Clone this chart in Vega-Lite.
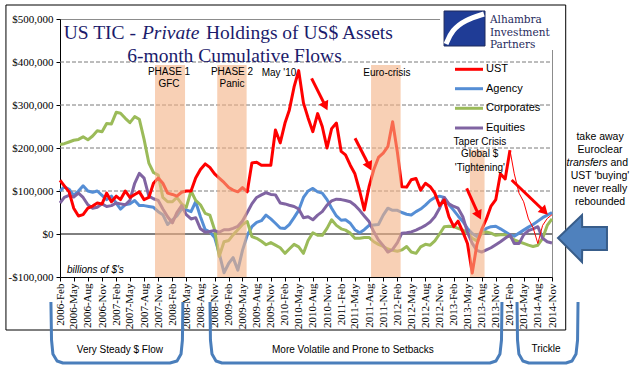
{
"$schema": "https://vega.github.io/schema/vega-lite/v6.json",
"width": 492, "height": 258,
"autosize": {"type": "none"},
"padding": {"left": 60, "top": 19, "right": 89, "bottom": 104},
"background": "white",
"config": {"view": {"stroke": "#8c8c8c", "strokeWidth": 1}, "font": "Liberation Sans"},
"datasets": {
"flows": [
{"t":"2006-02-01","UST":125000,"Agency":100000,"Corporates":208000,"Equities":72000},
{"t":"2006-03-01","UST":112000,"Agency":110000,"Corporates":210000,"Equities":85000},
{"t":"2006-04-01","UST":98000,"Agency":104000,"Corporates":214000,"Equities":90000},
{"t":"2006-05-01","UST":60000,"Agency":90000,"Corporates":218000,"Equities":86000},
{"t":"2006-06-01","UST":42000,"Agency":100000,"Corporates":220000,"Equities":95000},
{"t":"2006-07-01","UST":45000,"Agency":112000,"Corporates":226000,"Equities":85000},
{"t":"2006-08-01","UST":60000,"Agency":100000,"Corporates":219000,"Equities":68000},
{"t":"2006-09-01","UST":65000,"Agency":97000,"Corporates":228000,"Equities":60000},
{"t":"2006-10-01","UST":72000,"Agency":100000,"Corporates":240000,"Equities":62000},
{"t":"2006-11-01","UST":70000,"Agency":90000,"Corporates":238000,"Equities":70000},
{"t":"2006-12-01","UST":95000,"Agency":80000,"Corporates":257000,"Equities":64000},
{"t":"2007-01-01","UST":75000,"Agency":88000,"Corporates":256000,"Equities":66000},
{"t":"2007-02-01","UST":88000,"Agency":72000,"Corporates":283000,"Equities":72000},
{"t":"2007-03-01","UST":80000,"Agency":58000,"Corporates":281000,"Equities":70000},
{"t":"2007-04-01","UST":100000,"Agency":68000,"Corporates":269000,"Equities":68000},
{"t":"2007-05-01","UST":85000,"Agency":70000,"Corporates":259000,"Equities":78000},
{"t":"2007-06-01","UST":92000,"Agency":78000,"Corporates":273000,"Equities":118000},
{"t":"2007-07-01","UST":98000,"Agency":66000,"Corporates":267000,"Equities":141000},
{"t":"2007-08-01","UST":80000,"Agency":66000,"Corporates":220000,"Equities":130000},
{"t":"2007-09-01","UST":85000,"Agency":64000,"Corporates":165000,"Equities":88000},
{"t":"2007-10-01","UST":118000,"Agency":62000,"Corporates":143000,"Equities":82000},
{"t":"2007-11-01","UST":130000,"Agency":52000,"Corporates":137000,"Equities":78000},
{"t":"2007-12-01","UST":118000,"Agency":45000,"Corporates":85000,"Equities":58000},
{"t":"2008-01-01","UST":95000,"Agency":22000,"Corporates":75000,"Equities":40000},
{"t":"2008-02-01","UST":92000,"Agency":33000,"Corporates":75000,"Equities":26000},
{"t":"2008-03-01","UST":88000,"Agency":42000,"Corporates":85000,"Equities":50000},
{"t":"2008-04-01","UST":97000,"Agency":58000,"Corporates":70000,"Equities":66000},
{"t":"2008-05-01","UST":100000,"Agency":56000,"Corporates":62000,"Equities":45000},
{"t":"2008-06-01","UST":100000,"Agency":52000,"Corporates":100000,"Equities":35000},
{"t":"2008-07-01","UST":130000,"Agency":75000,"Corporates":78000,"Equities":38000},
{"t":"2008-08-01","UST":150000,"Agency":40000,"Corporates":68000,"Equities":12000},
{"t":"2008-09-01","UST":163000,"Agency":10000,"Corporates":48000,"Equities":4000},
{"t":"2008-10-01","UST":155000,"Agency":5000,"Corporates":44000,"Equities":6000},
{"t":"2008-11-01","UST":140000,"Agency":-8000,"Corporates":10000,"Equities":8000},
{"t":"2008-12-01","UST":130000,"Agency":-45000,"Corporates":-52000,"Equities":4000},
{"t":"2009-01-01","UST":120000,"Agency":-90000,"Corporates":-18000,"Equities":10000},
{"t":"2009-02-01","UST":108000,"Agency":-68000,"Corporates":-15000,"Equities":10000},
{"t":"2009-03-01","UST":102000,"Agency":-55000,"Corporates":-2000,"Equities":13000},
{"t":"2009-04-01","UST":98000,"Agency":-84000,"Corporates":10000,"Equities":18000},
{"t":"2009-05-01","UST":108000,"Agency":-38000,"Corporates":22000,"Equities":30000},
{"t":"2009-06-01","UST":98000,"Agency":-3000,"Corporates":29000,"Equities":50000},
{"t":"2009-07-01","UST":165000,"Agency":17000,"Corporates":-6000,"Equities":70000},
{"t":"2009-08-01","UST":167000,"Agency":27000,"Corporates":-10000,"Equities":85000},
{"t":"2009-09-01","UST":160000,"Agency":31000,"Corporates":-17000,"Equities":91000},
{"t":"2009-10-01","UST":160000,"Agency":44000,"Corporates":-25000,"Equities":96000},
{"t":"2009-11-01","UST":160000,"Agency":35000,"Corporates":-20000,"Equities":92000},
{"t":"2009-12-01","UST":242000,"Agency":25000,"Corporates":-26000,"Equities":91000},
{"t":"2010-01-01","UST":212000,"Agency":14000,"Corporates":-32000,"Equities":72000},
{"t":"2010-02-01","UST":258000,"Agency":13000,"Corporates":-45000,"Equities":70000},
{"t":"2010-03-01","UST":288000,"Agency":22000,"Corporates":-35000,"Equities":67000},
{"t":"2010-04-01","UST":342000,"Agency":38000,"Corporates":-24000,"Equities":64000},
{"t":"2010-05-01","UST":380000,"Agency":55000,"Corporates":-30000,"Equities":58000},
{"t":"2010-06-01","UST":305000,"Agency":85000,"Corporates":-45000,"Equities":38000},
{"t":"2010-07-01","UST":270000,"Agency":100000,"Corporates":-15000,"Equities":40000},
{"t":"2010-08-01","UST":238000,"Agency":106000,"Corporates":3000,"Equities":33000},
{"t":"2010-09-01","UST":280000,"Agency":98000,"Corporates":-3000,"Equities":44000},
{"t":"2010-10-01","UST":250000,"Agency":95000,"Corporates":-3000,"Equities":52000},
{"t":"2010-11-01","UST":200000,"Agency":80000,"Corporates":13000,"Equities":67000},
{"t":"2010-12-01","UST":245000,"Agency":60000,"Corporates":33000,"Equities":77000},
{"t":"2011-01-01","UST":258000,"Agency":42000,"Corporates":20000,"Equities":81000},
{"t":"2011-02-01","UST":192000,"Agency":32000,"Corporates":12000,"Equities":80000},
{"t":"2011-03-01","UST":184000,"Agency":33000,"Corporates":9000,"Equities":78000},
{"t":"2011-04-01","UST":160000,"Agency":25000,"Corporates":2000,"Equities":75000},
{"t":"2011-05-01","UST":140000,"Agency":10000,"Corporates":-10000,"Equities":67000},
{"t":"2011-06-01","UST":100000,"Agency":3000,"Corporates":-10000,"Equities":55000},
{"t":"2011-07-01","UST":56000,"Agency":10000,"Corporates":-8000,"Equities":42000},
{"t":"2011-08-01","UST":110000,"Agency":20000,"Corporates":-8000,"Equities":29000},
{"t":"2011-09-01","UST":150000,"Agency":21000,"Corporates":-18000,"Equities":5000},
{"t":"2011-10-01","UST":178000,"Agency":22000,"Corporates":-24000,"Equities":-14000},
{"t":"2011-11-01","UST":188000,"Agency":44000,"Corporates":-29000,"Equities":-27000},
{"t":"2011-12-01","UST":203000,"Agency":60000,"Corporates":-35000,"Equities":-42000},
{"t":"2012-01-01","UST":261000,"Agency":55000,"Corporates":-38000,"Equities":-36000},
{"t":"2012-02-01","UST":190000,"Agency":55000,"Corporates":-40000,"Equities":-20000},
{"t":"2012-03-01","UST":110000,"Agency":50000,"Corporates":-37000,"Equities":2000},
{"t":"2012-04-01","UST":109000,"Agency":46000,"Corporates":-29000,"Equities":3000},
{"t":"2012-05-01","UST":126000,"Agency":44000,"Corporates":-42000,"Equities":5000},
{"t":"2012-06-01","UST":129000,"Agency":52000,"Corporates":-45000,"Equities":9000},
{"t":"2012-07-01","UST":102000,"Agency":58000,"Corporates":-30000,"Equities":14000},
{"t":"2012-08-01","UST":118000,"Agency":67000,"Corporates":-24000,"Equities":20000},
{"t":"2012-09-01","UST":110000,"Agency":78000,"Corporates":-26000,"Equities":28000},
{"t":"2012-10-01","UST":95000,"Agency":85000,"Corporates":-16000,"Equities":40000},
{"t":"2012-11-01","UST":66000,"Agency":88000,"Corporates":0,"Equities":60000},
{"t":"2012-12-01","UST":79000,"Agency":85000,"Corporates":17000,"Equities":85000},
{"t":"2013-01-01","UST":40000,"Agency":68000,"Corporates":18000,"Equities":70000},
{"t":"2013-02-01","UST":17000,"Agency":55000,"Corporates":17000,"Equities":64000},
{"t":"2013-03-01","UST":30000,"Agency":42000,"Corporates":13000,"Equities":60000},
{"t":"2013-04-01","UST":5000,"Agency":29000,"Corporates":9000,"Equities":40000},
{"t":"2013-05-01","UST":-22000,"Agency":13000,"Corporates":2000,"Equities":4000},
{"t":"2013-06-01","UST":-91000,"Agency":1000,"Corporates":-10000,"Equities":-22000},
{"t":"2013-07-01","UST":-25000,"Agency":-6000,"Corporates":-16000,"Equities":-38000},
{"t":"2013-08-01","UST":10000,"Agency":5000,"Corporates":2000,"Equities":-42000},
{"t":"2013-09-01","UST":35000,"Agency":13000,"Corporates":5000,"Equities":-37000},
{"t":"2013-10-01","UST":65000,"Agency":17000,"Corporates":2000,"Equities":-32000},
{"t":"2013-11-01","UST":80000,"Agency":18000,"Corporates":-3000,"Equities":-25000},
{"t":"2013-12-01","UST":140000,"Agency":12000,"Corporates":-2000,"Equities":-18000},
{"t":"2014-01-01","UST":128000,"Agency":5000,"Corporates":-2000,"Equities":-10000},
{"t":"2014-02-01","UST":195000,"Agency":-2000,"Corporates":-6000,"Equities":-2000},
{"t":"2014-03-01","UST":null,"Agency":-5000,"Corporates":-14000,"Equities":-22000},
{"t":"2014-04-01","UST":null,"Agency":2000,"Corporates":-18000,"Equities":-22000},
{"t":"2014-05-01","UST":null,"Agency":9000,"Corporates":-22000,"Equities":-2000},
{"t":"2014-06-01","UST":null,"Agency":16000,"Corporates":-26000,"Equities":8000},
{"t":"2014-07-01","UST":null,"Agency":22000,"Corporates":-29000,"Equities":12000},
{"t":"2014-08-01","UST":null,"Agency":30000,"Corporates":-26000,"Equities":17000},
{"t":"2014-09-01","UST":null,"Agency":38000,"Corporates":-10000,"Equities":-10000},
{"t":"2014-10-01","UST":null,"Agency":44000,"Corporates":20000,"Equities":-18000},
{"t":"2014-11-01","UST":null,"Agency":50000,"Corporates":35000,"Equities":-21000}
],
"ustAlt": [
{"t":"2014-02-01","v":195000},
{"t":"2014-03-01","v":140000},
{"t":"2014-04-01","v":95000},
{"t":"2014-05-01","v":75000},
{"t":"2014-06-01","v":35000},
{"t":"2014-07-01","v":15000},
{"t":"2014-08-01","v":-22000},
{"t":"2014-09-01","v":20000},
{"t":"2014-10-01","v":36000},
{"t":"2014-11-01","v":45000}
]
},
"encoding": {
"x": {"field": "t", "type": "temporal",
 "scale": {"type": "utc", "nice": false, "domain": [{"year": 2006, "month": 2, "date": 1, "utc": true}, {"year": 2014, "month": 11, "date": 1, "utc": true}]},
 "axis": {"title": null, "format": "%Y-%b", "labelAngle": 270, "labelFont": "Liberation Serif", "labelFontSize": 11, "labelColor": "black", "grid": false, "domainColor": "black", "tickColor": "black", "tickSize": 4, "labelPadding": 2, "labelOverlap": false, "labelFlush": false, "labelBound": false,
 "values": [
 {"year":2006,"month":2,"date":1,"utc":true},{"year":2006,"month":5,"date":1,"utc":true},{"year":2006,"month":8,"date":1,"utc":true},{"year":2006,"month":11,"date":1,"utc":true},
 {"year":2007,"month":2,"date":1,"utc":true},{"year":2007,"month":5,"date":1,"utc":true},{"year":2007,"month":8,"date":1,"utc":true},{"year":2007,"month":11,"date":1,"utc":true},
 {"year":2008,"month":2,"date":1,"utc":true},{"year":2008,"month":5,"date":1,"utc":true},{"year":2008,"month":8,"date":1,"utc":true},{"year":2008,"month":11,"date":1,"utc":true},
 {"year":2009,"month":2,"date":1,"utc":true},{"year":2009,"month":5,"date":1,"utc":true},{"year":2009,"month":8,"date":1,"utc":true},{"year":2009,"month":11,"date":1,"utc":true},
 {"year":2010,"month":2,"date":1,"utc":true},{"year":2010,"month":5,"date":1,"utc":true},{"year":2010,"month":8,"date":1,"utc":true},{"year":2010,"month":11,"date":1,"utc":true},
 {"year":2011,"month":2,"date":1,"utc":true},{"year":2011,"month":5,"date":1,"utc":true},{"year":2011,"month":8,"date":1,"utc":true},{"year":2011,"month":11,"date":1,"utc":true},
 {"year":2012,"month":2,"date":1,"utc":true},{"year":2012,"month":5,"date":1,"utc":true},{"year":2012,"month":8,"date":1,"utc":true},{"year":2012,"month":11,"date":1,"utc":true},
 {"year":2013,"month":2,"date":1,"utc":true},{"year":2013,"month":5,"date":1,"utc":true},{"year":2013,"month":8,"date":1,"utc":true},{"year":2013,"month":11,"date":1,"utc":true},
 {"year":2014,"month":2,"date":1,"utc":true},{"year":2014,"month":5,"date":1,"utc":true},{"year":2014,"month":8,"date":1,"utc":true},{"year":2014,"month":11,"date":1,"utc":true}
 ]}},
"y": {"field": "v", "type": "quantitative",
 "scale": {"domain": [-100000, 500000], "nice": false, "zero": false},
 "axis": {"title": null, "values": [-100000, 0, 100000, 200000, 300000, 400000, 500000],
 "labelExpr": "(datum.value < 0 ? '-$' : '$') + format(abs(datum.value), ',')",
 "labelFont": "Liberation Serif", "labelFontSize": 11, "labelColor": "black", "labelPadding": 3, "tickSize": 4, "tickColor": "black", "domainColor": "black",
 "grid": false}}
},
"layer": [
{
"data": {"values": [
{"t":"2006-02-01","t2":"2014-11-01","v":100000},
{"t":"2006-02-01","t2":"2014-11-01","v":200000},
{"t":"2006-02-01","t2":"2014-11-01","v":300000},
{"t":"2006-02-01","t2":"2014-11-01","v":400000}
]},
"mark": {"type": "rule", "color": "#7a7a7a", "strokeWidth": 1, "strokeDash": [4, 2]},
"encoding": {"x2": {"field": "t2"}}
},
{
"data": {"values": [{"t":"2006-02-01","t2":"2014-11-01","v":0}]},
"mark": {"type": "rule", "color": "black", "strokeWidth": 1},
"encoding": {"x2": {"field": "t2"}}
},
{
"data": {"name": "flows"},
"transform": [{"fold": ["Agency", "Corporates", "Equities"], "as": ["series", "v"]}],
"mark": {"type": "line", "strokeWidth": 3, "strokeJoin": "round"},
"encoding": {
"color": {"field": "series", "type": "nominal", "scale": {"domain": ["UST", "Agency", "Corporates", "Equities"], "range": ["#ff0000", "#558ed5", "#9bbb59", "#8064a2"]}, "legend": null}
}
},
{
"data": {"name": "flows"},
"transform": [{"fold": ["UST"], "as": ["series", "v"]}],
"mark": {"type": "line", "strokeWidth": 3, "strokeJoin": "round"},
"encoding": {
"color": {"field": "series", "type": "nominal", "legend": null}
}
},
{
"data": {"name": "ustAlt"},
"mark": {"type": "line", "strokeWidth": 1, "color": "#ff0000"},
"encoding": {}
},
{
"data": {"values": [
{"t":"2007-10-11","t2":"2008-04-23","v":393023,"v2":-100000},
{"t":"2008-11-18","t2":"2009-05-28","v":393023,"v2":-100000},
{"t":"2011-08-14","t2":"2012-02-22","v":393023,"v2":-100000},
{"t":"2013-05-17","t2":"2013-08-20","v":195349,"v2":-100000}
]},
"mark": {"type": "rect", "color": "#f4b183", "opacity": 0.6},
"encoding": {"x2": {"field": "t2"}, "y2": {"field": "v2"}}
},
{
"data": {"values": [
{"t":"2010-07-24","v":362093,"t2":"2010-10-22","v2":297209},
{"t":"2011-05-02","v":222558,"t2":"2011-08-03","v2":157442},
{"t":"2013-04-26","v":106279,"t2":"2013-07-14","v2":43256},
{"t":"2014-02-12","v":125581,"t2":"2014-09-14","v2":52326}
]},
"mark": {"type": "rule", "color": "#ff0000", "strokeWidth": 3},
"encoding": {"x2": {"field": "t2"}, "y2": {"field": "v2"}}
},
{
"data": {"values": [
{"t":"2010-10-22","v":297209},
{"t":"2011-08-03","v":157442},
{"t":"2013-07-14","v":43256}
]},
"mark": {"type": "point", "shape": "triangle-up", "filled": true, "color": "#ff0000", "opacity": 1, "size": 110, "angle": 154},
"encoding": {}
},
{
"data": {"values": [{"t":"2014-09-14","v":52326}]},
"mark": {"type": "point", "shape": "triangle-up", "filled": true, "color": "#ff0000", "opacity": 1, "size": 110, "angle": 134},
"encoding": {}
},
{
"data": {"values": [
{"t":"2008-01-10","v":376744,"label":"PHASE 1"},
{"t":"2008-01-10","v":348837,"label":"GFC"},
{"t":"2009-02-22","v":376744,"label":"PHASE 2"},
{"t":"2009-02-22","v":348837,"label":"Panic"},
{"t":"2009-12-24","v":374419,"label":"May '10"},
{"t":"2011-11-25","v":374419,"label":"Euro-crisis"},
{"t":"2013-07-21","v":214651,"label":"Taper Crisis"},
{"t":"2013-07-19","v":185349,"label":"Global $"},
{"t":"2013-07-21","v":154186,"label":"'Tightening'"},
{"t":"2007-02-25","v":-269767,"label":"Very Steady $ Flow"},
{"t":"2011-04-18","v":-269767,"label":"More Volatile and Prone to Setbacks"},
{"t":"2014-09-23","v":-267442,"label":"Trickle"}
]},
"mark": {"type": "text", "font": "Liberation Sans", "fontSize": 10, "color": "black", "align": "center", "baseline": "middle"},
"encoding": {"text": {"field": "label"}}
},
{
"data": {"values": [{"t":"2006-03-18","v":-83721,"label":"billions of $'s"}]},
"mark": {"type": "text", "font": "Liberation Sans", "fontSize": 10, "fontStyle": "italic", "color": "black", "align": "left", "baseline": "middle"},
"encoding": {"text": {"field": "label"}}
},
{
"data": {"values": [
{"t":"2015-09-09","v":226279,"label":"take away"},
{"t":"2015-09-09","v":195349,"label":"Euroclear"},
{"t":"2015-09-09","v":134884,"label":"UST 'buying'"},
{"t":"2015-09-09","v":103953,"label":"never really"},
{"t":"2015-09-09","v":75116,"label":"rebounded"}
]},
"mark": {"type": "text", "font": "Liberation Sans", "fontSize": 10.5, "color": "black", "align": "center", "baseline": "middle"},
"encoding": {"text": {"field": "label"}}
},
{
"data": {"values": [{"t":"2015-10-27","v":165814,"label":"transfers"}]},
"mark": {"type": "text", "font": "Liberation Sans", "fontSize": 10.5, "fontStyle": "italic", "color": "black", "align": "right", "baseline": "middle"},
"encoding": {"text": {"field": "label"}}
},
{
"data": {"values": [{"t":"2015-11-16","v":165814,"label":"and"}]},
"mark": {"type": "text", "font": "Liberation Sans", "fontSize": 10.5, "color": "black", "align": "left", "baseline": "middle"},
"encoding": {"text": {"field": "label"}}
},
{
"data": {"values": [{"t":"2012-11-04","t2":"2015-01-05","v":530233,"v2":427907}]},
"mark": {"type": "rect", "color": "white"},
"encoding": {"x2": {"field": "t2"}, "y2": {"field": "v2"}}
},
{
"data": {"values": [{"t":"2012-11-30","t2":"2013-08-23","v":518605,"v2":437209}]},
"mark": {"type": "rect", "color": "#1f3c96", "stroke": "#1f2a5c", "strokeWidth": 1},
"encoding": {"x2": {"field": "t2"}, "y2": {"field": "v2"}}
},
{
"data": {"values": [
{"t":"2012-12-13","v":441860},
{"t":"2013-01-21","v":474419},
{"t":"2013-04-15","v":497674},
{"t":"2013-08-16","v":511628}
]},
"mark": {"type": "line", "color": "white", "strokeWidth": 5, "interpolate": "basis"},
"encoding": {}
},
{
"data": {"values": [{"t":"2013-09-24","v":489535,"label":["Alhambra","Investment","Partners"]}]},
"mark": {"type": "text", "font": "DejaVu Serif", "fontSize": 10.5, "lineHeight": 12.3, "color": "#1f2a5c", "align": "left", "baseline": "alphabetic"},
"encoding": {"text": {"field": "label"}}
},
{
"data": {"values": [{"t":"2007-06-09","v":453488,"label":"US TIC -"}]},
"mark": {"type": "text", "font": "Liberation Serif", "fontSize": 19.5, "color": "#1b1b6b", "align": "right", "baseline": "alphabetic"},
"encoding": {"text": {"field": "label"}}
},
{
"data": {"values": [{"t":"2007-07-18","v":453488,"label":"Private"}]},
"mark": {"type": "text", "font": "Liberation Serif", "fontSize": 19.5, "fontStyle": "italic", "color": "#1b1b6b", "align": "left", "baseline": "alphabetic"},
"encoding": {"text": {"field": "label"}}
},
{
"data": {"values": [{"t":"2008-09-06","v":453488,"label":"Holdings of US$ Assets"}]},
"mark": {"type": "text", "font": "Liberation Serif", "fontSize": 19.5, "color": "#1b1b6b", "align": "left", "baseline": "alphabetic"},
"encoding": {"text": {"field": "label"}}
},
{
"data": {"values": [{"t":"2009-03-10","v":400000,"label":"6-month Cumulative Flows"}]},
"mark": {"type": "text", "font": "Liberation Serif", "fontSize": 19.5, "color": "#1b1b6b", "align": "center", "baseline": "alphabetic"},
"encoding": {"text": {"field": "label"}}
},
{
"data": {"values": [
{"series":"UST","t":"2013-02-09","t2":"2013-08-10","v":383023},
{"series":"Agency","t":"2013-02-09","t2":"2013-08-10","v":337907},
{"series":"Corporates","t":"2013-02-09","t2":"2013-08-10","v":292326},
{"series":"Equities","t":"2013-02-09","t2":"2013-08-10","v":246512}
]},
"mark": {"type": "rule", "strokeWidth": 3},
"encoding": {"x2": {"field": "t2"}, "color": {"field": "series", "type": "nominal", "legend": null}}
},
{
"data": {"values": [
{"t":"2013-08-29","v":383023,"label":"UST"},
{"t":"2013-08-29","v":337907,"label":"Agency"},
{"t":"2013-08-29","v":292326,"label":"Corporates"},
{"t":"2013-08-29","v":246512,"label":"Equities"}
]},
"mark": {"type": "text", "font": "Liberation Sans", "fontSize": 11, "color": "black", "align": "left", "baseline": "middle"},
"encoding": {"text": {"field": "label"}}
},
{
"data": {"values": [{"t":"2005-02-15","t2":"2015-01-29","v":532558,"v2":-223256}]},
"mark": {"type": "rect", "fill": null, "fillOpacity": 0, "stroke": "black", "strokeWidth": 1},
"encoding": {"x2": {"field": "t2"}, "y2": {"field": "v2"}}
},
{
"data": {"values": [
{"b":1,"o":1,"t":"2005-12-04","v":-158140},
{"b":1,"o":2,"t":"2005-12-08","v":-246512},
{"b":1,"o":3,"t":"2005-12-17","v":-279070},
{"b":1,"o":4,"t":"2006-01-13","v":-295349},
{"b":1,"o":5,"t":"2006-02-20","v":-300000},
{"b":1,"o":6,"t":"2008-01-16","v":-300000},
{"b":1,"o":7,"t":"2008-03-02","v":-295349},
{"b":1,"o":8,"t":"2008-03-28","v":-279070},
{"b":1,"o":9,"t":"2008-04-06","v":-246512},
{"b":1,"o":10,"t":"2008-04-09","v":-158140},
{"b":2,"o":1,"t":"2008-10-02","v":-158140},
{"b":2,"o":2,"t":"2008-10-05","v":-246512},
{"b":2,"o":3,"t":"2008-10-15","v":-279070},
{"b":2,"o":4,"t":"2008-11-10","v":-295349},
{"b":2,"o":5,"t":"2008-12-19","v":-300000},
{"b":2,"o":6,"t":"2013-09-24","v":-300000},
{"b":2,"o":7,"t":"2013-11-02","v":-295349},
{"b":2,"o":8,"t":"2013-11-28","v":-279070},
{"b":2,"o":9,"t":"2013-12-08","v":-246512},
{"b":2,"o":10,"t":"2013-12-11","v":-158140},
{"b":3,"o":1,"t":"2014-03-19","v":-158140},
{"b":3,"o":2,"t":"2014-03-22","v":-246512},
{"b":3,"o":3,"t":"2014-03-31","v":-279070},
{"b":3,"o":4,"t":"2014-04-26","v":-295349},
{"b":3,"o":5,"t":"2014-06-04","v":-300000},
{"b":3,"o":6,"t":"2015-01-31","v":-300000},
{"b":3,"o":7,"t":"2015-03-11","v":-295349},
{"b":3,"o":8,"t":"2015-04-06","v":-279070},
{"b":3,"o":9,"t":"2015-04-16","v":-246512},
{"b":3,"o":10,"t":"2015-04-19","v":-158140}
]},
"mark": {"type": "line", "color": "#4a7ebb", "strokeWidth": 3, "strokeJoin": "round"},
"encoding": {"detail": {"field": "b", "type": "nominal"}, "order": {"field": "o", "type": "quantitative"}}
},
{
"data": {"values": [
{"t":"2014-12-10","v":-9302,"v2":-9302},
{"t":"2015-05-15","v":44186,"v2":-65116},
{"t":"2015-05-16","v":16279,"v2":-37209},
{"t":"2015-10-24","v":16279,"v2":-37209}
]},
"mark": {"type": "area", "color": "#4f81bd", "stroke": "#385d8a", "strokeWidth": 2, "opacity": 1},
"encoding": {"y2": {"field": "v2"}}
}
]
}
